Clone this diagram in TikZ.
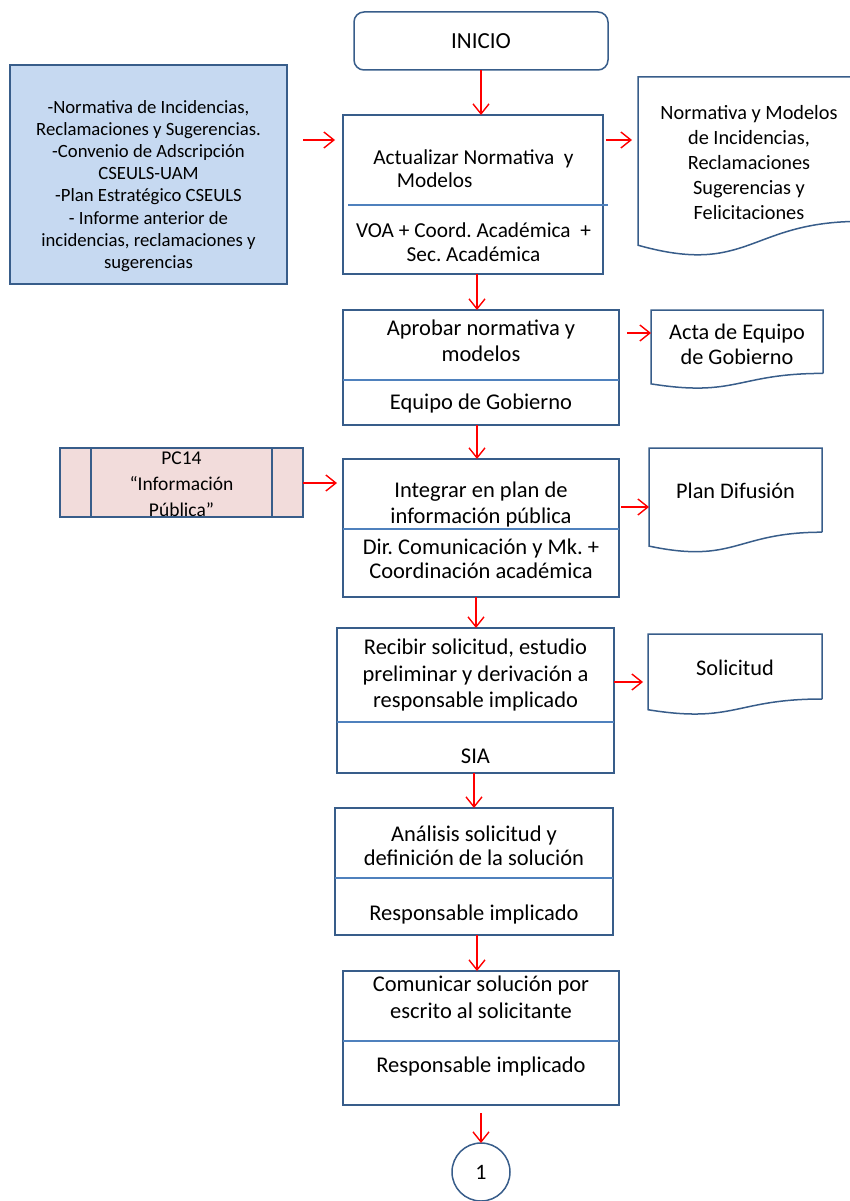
\documentclass[tikz,border=0pt]{standalone}
\usepackage{fontspec}
\setmainfont{Carlito}
\usetikzlibrary{arrows.meta,calc}

\definecolor{borde}{RGB}{56,93,138}
\definecolor{divisor}{RGB}{79,129,189}
\definecolor{azulclaro}{RGB}{198,217,241}
\definecolor{rosaclaro}{RGB}{242,220,219}

% contorno de documento (nodo, altura del nodo)
\newcommand{\documento}[2]{%
  \draw[linedoc] (#1.south east) -- (#1.north east) -- (#1.north west)
    -- ($(#1.south west)+(0,0.165*#2)$)
    .. controls ($(#1.south)+(0,0.381*#2)$) and (#1.south) .. (#1.south east);}

\begin{document}
\frenchspacing
\begin{tikzpicture}[x=1pt,y=-1pt,
    proceso/.style={draw=borde, line width=1.5pt, inner sep=0pt, outer sep=0pt},
    docnode/.style={inner sep=0pt, outer sep=0pt},
    linedoc/.style={draw=borde, line width=1.5pt},
    linea/.style={draw=divisor, line width=1.1pt},
    flecha/.style={draw=red, line width=1.4pt, -{Straight Barb[length=10pt,width=16pt]}},
    txtbox/.style={align=center, inner sep=0pt, font=\fontsize{22.5}{26.5}\selectfont},
    txtdoc/.style={align=center, inner sep=0pt, font=\fontsize{22.3}{25}\selectfont}]
\useasboundingbox (0,0) rectangle (850,1201);

% cajas del proceso
\node[proceso, rounded corners=10pt, minimum width=254, minimum height=58, font=\fontsize{23}{26}\selectfont] (inicio) at (481,41) {INICIO};
\node[proceso, minimum width=260, minimum height=159] (actualizar) at (473,194.5) {};
\node[proceso, minimum width=276, minimum height=115] (aprobar) at (481,367.5) {};
\node[proceso, minimum width=276, minimum height=138] (integrar) at (481,528) {};
\node[proceso, minimum width=277, minimum height=145] (recibir) at (475.5,700.5) {};
\node[proceso, minimum width=278, minimum height=127] (analisis) at (474,871.5) {};
\node[proceso, minimum width=276, minimum height=134] (comunicar) at (481,1038) {};
\node[proceso, circle, minimum size=58, font=\fontsize{22}{25}\selectfont] (uno) at (481,1172) {1};

% separadores
\draw[linea] ([xshift=5pt]actualizar.west |- 0,205) -- ([xshift=5pt]actualizar.east |- 0,205);
\draw[linea] (aprobar.west |- 0,380) -- (aprobar.east |- 0,380);
\draw[linea] (integrar.west |- 0,529) -- (integrar.east |- 0,529);
\draw[linea] (recibir.west |- 0,722) -- (recibir.east |- 0,722);
\draw[linea] (analisis.west |- 0,878) -- (analisis.east |- 0,878);
\draw[linea] (comunicar.west |- 0,1041) -- (comunicar.east |- 0,1041);

% textos
\node[txtbox, align=left, font=\fontsize{21.3}{23.5}\selectfont] (actualizart) at (473.5,168.5) {Actualizar Normativa\ \ y\\\hspace*{1.1em}Modelos};
\node[txtbox, font=\fontsize{21.3}{24}\selectfont] (actualizarr) at (473.5,242) {VOA + Coord. Académica\ \ +\\Sec. Académica};
\node[txtbox] (aprobart) at (481,341) {Aprobar normativa y\\modelos};
\node[txtbox] (aprobarr) at (481,403) {Equipo de Gobierno};
\node[txtbox] (integrart) at (481,504.5) {Integrar en plan de\\información pública};
\node[txtbox, font=\fontsize{22.5}{24.5}\selectfont] (integrarr) at (481,559) {Dir. Comunicación y Mk. +\\Coordinación académica};
\node[txtbox] (recibirt) at (475.5,675) {Recibir solicitud, estudio\\preliminar y derivación a\\responsable implicado};
\node[txtbox] (recibirr) at (475.5,756) {SIA};
\node[txtbox, font=\fontsize{22.5}{24.5}\selectfont] (analisist) at (474,846) {Análisis solicitud y\\definición de la solución};
\node[txtbox] (analisisr) at (474,914) {Responsable implicado};
\node[txtbox] (comunicart) at (481,997.5) {Comunicar solución por\\escrito al solicitante};
\node[txtbox] (comunicarr) at (481,1066) {Responsable implicado};

% entradas
\node[proceso, fill=azulclaro, minimum width=277, minimum height=219] (entradas) at (148.5,174.5) {};
\node[align=center, inner sep=0pt, font=\fontsize{18.7}{22.2}\selectfont] (entradast) at (148.5,186) {-Normativa de Incidencias,\\Reclamaciones y Sugerencias.\\-Convenio de Adscripción\\CSEULS-UAM\\-Plan Estratégico CSEULS\\- Informe anterior de\\incidencias, reclamaciones y\\sugerencias};
\node[proceso, fill=rosaclaro, minimum width=243, minimum height=69] (pc14) at (181.5,482.5) {};
\draw[linedoc] ([xshift=31pt]pc14.north west) -- ([xshift=31pt]pc14.south west);
\draw[linedoc] ([xshift=-31pt]pc14.north east) -- ([xshift=-31pt]pc14.south east);
\node[align=center, inner sep=0pt, font=\fontsize{19.5}{25.8}\selectfont] (pc14t) at (181.5,484) {PC14\\“Información\\Pública”};

% documentos
\node[docnode, minimum width=222, minimum height=144.4] (normdoc) at (749,149.2) {};
\documento{normdoc}{144.4}
\node[txtdoc, font=\fontsize{20.3}{24.8}\selectfont] (normdoct) at (749,162.5) {Normativa y Modelos\\de Incidencias,\\Reclamaciones\\Sugerencias y\\Felicitaciones};
\node[docnode, minimum width=172, minimum height=63.4] (acta) at (737,341.7) {};
\documento{acta}{63.4}
\node[txtdoc] (actat) at (737,344.5) {Acta de Equipo\\de Gobierno};
\node[docnode, minimum width=173, minimum height=84.2] (plandif) at (735.5,490.1) {};
\documento{plandif}{84.2}
\node[txtdoc] (plandift) at (735.5,491) {Plan Difusión};
\node[docnode, minimum width=174, minimum height=65] (solicitud) at (735,666.5) {};
\documento{solicitud}{65}
\node[txtdoc] (solicitudt) at (735,668) {Solicitud};

% flujo principal
\draw[flecha] (inicio.south) -- (inicio.south |- actualizar.north);
\draw[flecha] ([xshift=4pt]actualizar.south) -- ([xshift=4pt]actualizar.south |- aprobar.north);
\draw[flecha] ([xshift=-4pt]aprobar.south) -- ([xshift=-4pt]aprobar.south |- integrar.north);
\draw[flecha] ([xshift=-5pt]integrar.south) -- ([xshift=-5pt]integrar.south |- recibir.north);
\draw[flecha] ([xshift=-1.5pt]recibir.south) -- ([xshift=-1.5pt]recibir.south |- analisis.north);
\draw[flecha] ([xshift=3pt]analisis.south) -- ([xshift=3pt]analisis.south |- comunicar.north);
\draw[flecha, shorten <=8pt] (comunicar.south) -- (uno.north);

% entradas y salidas
\draw[flecha, shorten <=16pt, shorten >=8pt] (entradas.east |- 0,140) -- (actualizar.west |- 0,140);
\draw[flecha, shorten <=3pt, shorten >=6pt] (actualizar.east |- 0,140) -- (normdoc.west |- 0,140);
\draw[flecha, shorten <=8pt] (aprobar.east |- 0,333) -- (acta.west |- 0,333);
\draw[flecha, shorten >=6pt] (pc14.east |- 0,483) -- (integrar.west |- 0,483);
\draw[flecha, shorten <=2pt] (integrar.east |- 0,507) -- (plandif.west |- 0,507);
\draw[flecha, shorten >=5pt] (recibir.east |- 0,682) -- (solicitud.west |- 0,682);
\end{tikzpicture}
\end{document}
